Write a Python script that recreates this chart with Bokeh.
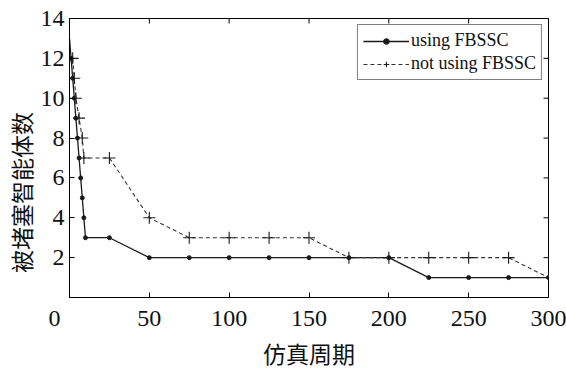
import math
from bokeh.plotting import figure
from bokeh.models import Range1d, LinearAxis, FixedTicker, Legend, LegendItem
from bokeh.embed import file_html
from bokeh.resources import INLINE

# data
x_using = [0, 1, 2, 3, 4, 5, 6, 7, 8, 9, 10, 25, 50, 75, 100, 125, 150, 175, 200, 225, 250, 275, 300]
y_using = [13, 12, 11, 10, 9, 8, 7, 6, 5, 4, 3, 3, 2, 2, 2, 2, 2, 2, 2, 1, 1, 1, 1]
x_not = [2, 3, 4, 6, 8, 9, 25, 50, 75, 100, 125, 150, 175, 200, 225, 250, 275, 300]
y_not = [12, 11, 10, 9, 8, 7, 7, 4, 3, 3, 3, 3, 2, 2, 2, 2, 2, 1]
x_ticks = [0, 50, 100, 150, 200, 250, 300]
y_ticks = [2, 4, 6, 8, 10, 12, 14]
x_title = "仿真周期"
y_title = "被堵塞智能体数"
series_names = ["using FBSSC", "not using FBSSC"]

SERIF = "Liberation Serif"
CJK = "Noto Sans CJK SC"

W, H = 566, 372
p = figure(width=W, height=H, output_backend="svg", toolbar_location=None,
           x_range=Range1d(0, 300), y_range=Range1d(0, 14),
           min_border_left=69, min_border_right=18, min_border_top=18, min_border_bottom=63,
           x_axis_type=None, y_axis_type=None)
p.grid.visible = False
p.outline_line_color = "black"
p.outline_line_width = 1
p.background_fill_color = "white"
p.border_fill_color = "white"

def mk_axis(ticks):
    ax = LinearAxis(ticker=FixedTicker(ticks=ticks))
    ax.major_tick_in = 5
    ax.major_tick_out = 0
    ax.minor_tick_in = 0
    ax.minor_tick_out = 0
    ax.axis_line_color = "black"
    ax.major_tick_line_color = "black"
    ax.major_label_text_font = SERIF
    ax.major_label_text_font_size = "24px"
    ax.major_label_text_color = "#111111"
    ax.major_label_standoff = 7
    ax.axis_label_text_font = CJK
    ax.axis_label_text_font_size = "23px"
    ax.axis_label_text_font_style = "normal"
    ax.axis_label_text_color = "#111111"
    return ax

xax = mk_axis(x_ticks)
xax.axis_label = x_title
xax.axis_label_standoff = 2
# the corner "0" sits left of the origin, as in the reference
xax.major_label_overrides = {0: "0\u2003\u2005"}
p.add_layout(xax, "below")

yax = mk_axis(y_ticks)
yax.major_label_standoff = 5
# trailing ideographic spaces shift the centred title down along the axis
yax.axis_label = y_title + "\u3000\u3000\u3000"
yax.axis_label_standoff = 0
p.add_layout(yax, "left")

# inward ticks on the top and right edges (clipped to the frame)
p.scatter(x_ticks[1:], [14] * (len(x_ticks) - 1), marker="dash", angle=math.pi / 2, size=10,
          line_color="black", line_width=1)
p.scatter([300] * len(y_ticks), y_ticks, marker="dash", size=10,
          line_color="black", line_width=1)

l1 = p.line(x_using, y_using, line_color="#1a1a1a", line_width=1.3)
m1 = p.scatter(x_using[1:], y_using[1:], marker="circle", size=4, fill_color="#1a1a1a", line_color="#1a1a1a")
l2 = p.line(x_not, y_not, line_color="#333333", line_width=1.1, line_dash="4 3")
m2 = p.scatter(x_not, y_not, marker="cross", size=12, line_color="#1a1a1a", line_width=1.1)

legend = Legend(items=[LegendItem(label=series_names[0], renderers=[l1, m1]),
                       LegendItem(label=series_names[1], renderers=[l2, m2])],
                location="top_right")
legend.label_text_font = SERIF
legend.label_text_font_size = "18px"
legend.label_text_color = "#111111"
legend.glyph_width = 46
legend.glyph_height = 14
legend.label_height = 18
legend.label_standoff = 2
legend.spacing = 2
legend.padding = 5
legend.margin = 6
legend.border_line_color = "black"
legend.border_line_width = 1
legend.background_fill_alpha = 1
p.add_layout(legend)

open("out.html", "w").write(file_html(p, INLINE))
